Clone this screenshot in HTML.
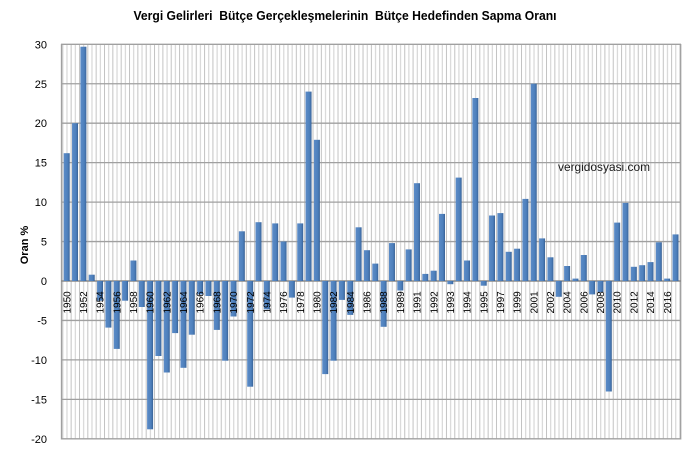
<!DOCTYPE html>
<html>
<head>
<meta charset="utf-8">
<style>
html,body{margin:0;padding:0;background:#fff;}
svg{display:block;}
text{font-family:"Liberation Sans",Arial,sans-serif;}
.pre{white-space:pre;}
</style>
</head>
<body>
<svg width="696" height="452" viewBox="0 0 696 452" xmlns="http://www.w3.org/2000/svg">
<defs>
<pattern id="vg" patternUnits="userSpaceOnUse" x="62.3" y="0" width="8.34" height="452">
<rect x="0" y="0" width="1" height="452" fill="#c2c2c2"/>
<rect x="4.17" y="0" width="1" height="452" fill="#cfcfcf"/>
</pattern>
<linearGradient id="bg" x1="0" y1="0" x2="1" y2="0">
<stop offset="0" stop-color="#5b8bc7"/>
<stop offset="0.6" stop-color="#4f81bd"/>
<stop offset="0.8" stop-color="#4575b0"/>
<stop offset="1" stop-color="#385f90"/>
</linearGradient>
</defs>
<rect width="696" height="452" fill="#fff"/>

<!-- title -->
<text class="pre" xml:space="preserve" x="345" y="20" font-size="12.5" font-weight="bold" text-anchor="middle" textLength="423" lengthAdjust="spacingAndGlyphs" fill="#000">Vergi Gelirleri  Bütçe Gerçekleşmelerinin  Bütçe Hedefinden Sapma Oranı</text>

<!-- plot area -->
<rect x="61.5" y="44.3" width="619" height="394.5" fill="url(#vg)"/>
<g stroke="#a0a0a0" stroke-width="1.3">
<line x1="61" y1="44.3" x2="681" y2="44.3"/>
<line x1="61" y1="83.75" x2="681" y2="83.75"/>
<line x1="61" y1="123.2" x2="681" y2="123.2"/>
<line x1="61" y1="162.65" x2="681" y2="162.65"/>
<line x1="61" y1="202.1" x2="681" y2="202.1"/>
<line x1="61" y1="241.55" x2="681" y2="241.55"/>
<line x1="61" y1="320.45" x2="681" y2="320.45"/>
<line x1="61" y1="359.9" x2="681" y2="359.9"/>
<line x1="61" y1="399.35" x2="681" y2="399.35"/>
<line x1="61" y1="438.8" x2="681" y2="438.8"/>
<line x1="61.5" y1="44" x2="61.5" y2="439.5"/>
<line x1="680.7" y1="44" x2="680.7" y2="439.5"/>
</g>
<line x1="61" y1="281" x2="681" y2="281" stroke="#8a8a8a" stroke-width="1.4"/>

<!-- bars -->
<g fill="url(#bg)">
<rect x="63.7" y="153.2" width="6" height="127.8"/>
<rect x="72.04" y="123.2" width="6" height="157.8"/>
<rect x="80.38" y="46.7" width="6" height="234.3"/>
<rect x="88.72" y="274.7" width="6" height="6.3"/>
<rect x="97.06" y="281" width="6" height="19.7"/>
<rect x="105.4" y="281" width="6" height="46.6"/>
<rect x="113.74" y="281" width="6" height="67.9"/>
<rect x="122.08" y="281" width="6" height="19.7"/>
<rect x="130.42" y="260.5" width="6" height="20.5"/>
<rect x="138.76" y="281" width="6" height="26"/>
<rect x="147.1" y="281" width="6" height="148.3"/>
<rect x="155.44" y="281" width="6" height="75"/>
<rect x="163.78" y="281" width="6" height="91.5"/>
<rect x="172.12" y="281" width="6" height="52.1"/>
<rect x="180.46" y="281" width="6" height="86.8"/>
<rect x="188.8" y="281" width="6" height="53.7"/>
<rect x="197.14" y="281" width="6" height="13.4"/>
<rect x="205.48" y="281" width="6" height="15"/>
<rect x="213.82" y="281" width="6" height="48.9"/>
<rect x="222.16" y="281" width="6" height="79.7"/>
<rect x="230.5" y="281" width="6" height="35.5"/>
<rect x="238.84" y="231.3" width="6" height="49.7"/>
<rect x="247.18" y="281" width="6" height="105.7"/>
<rect x="255.52" y="222.2" width="6" height="58.8"/>
<rect x="263.86" y="281" width="6" height="28.4"/>
<rect x="272.2" y="223.4" width="6" height="57.6"/>
<rect x="280.54" y="241.5" width="6" height="39.5"/>
<rect x="288.88" y="281" width="6" height="16.6"/>
<rect x="297.22" y="223.4" width="6" height="57.6"/>
<rect x="305.56" y="91.6" width="6" height="189.4"/>
<rect x="313.9" y="139.8" width="6" height="141.2"/>
<rect x="322.24" y="281" width="6" height="93.1"/>
<rect x="330.58" y="281" width="6" height="79.7"/>
<rect x="338.92" y="281" width="6" height="18.9"/>
<rect x="347.26" y="281" width="6" height="33.9"/>
<rect x="355.6" y="227.3" width="6" height="53.7"/>
<rect x="363.94" y="250.2" width="6" height="30.8"/>
<rect x="372.28" y="263.6" width="6" height="17.4"/>
<rect x="380.62" y="281" width="6" height="45.8"/>
<rect x="388.96" y="243.1" width="6" height="37.9"/>
<rect x="397.3" y="281" width="6" height="9.5"/>
<rect x="405.64" y="249.4" width="6" height="31.6"/>
<rect x="413.98" y="183.2" width="6" height="97.8"/>
<rect x="422.32" y="273.9" width="6" height="7.1"/>
<rect x="430.66" y="270.7" width="6" height="10.3"/>
<rect x="439" y="213.9" width="6" height="67.1"/>
<rect x="447.34" y="281" width="6" height="3.2"/>
<rect x="455.68" y="177.6" width="6" height="103.4"/>
<rect x="464.02" y="260.5" width="6" height="20.5"/>
<rect x="472.36" y="98" width="6" height="183"/>
<rect x="480.7" y="281" width="6" height="4.7"/>
<rect x="489.04" y="215.5" width="6" height="65.5"/>
<rect x="497.38" y="213.1" width="6" height="67.9"/>
<rect x="505.72" y="251.8" width="6" height="29.2"/>
<rect x="514.06" y="248.7" width="6" height="32.3"/>
<rect x="522.4" y="198.9" width="6" height="82.1"/>
<rect x="530.74" y="83.7" width="6" height="197.3"/>
<rect x="539.08" y="238.4" width="6" height="42.6"/>
<rect x="547.42" y="257.3" width="6" height="23.7"/>
<rect x="555.76" y="281" width="6" height="15.8"/>
<rect x="564.1" y="266" width="6" height="15"/>
<rect x="572.44" y="278.6" width="6" height="2.4"/>
<rect x="580.78" y="255" width="6" height="26"/>
<rect x="589.12" y="281" width="6" height="13.4"/>
<rect x="597.46" y="281" width="6" height="11"/>
<rect x="605.8" y="281" width="6" height="110.5"/>
<rect x="614.14" y="222.6" width="6" height="58.4"/>
<rect x="622.48" y="202.9" width="6" height="78.1"/>
<rect x="630.82" y="266.8" width="6" height="14.2"/>
<rect x="639.16" y="265.2" width="6" height="15.8"/>
<rect x="647.5" y="262.1" width="6" height="18.9"/>
<rect x="655.84" y="242.3" width="6" height="38.7"/>
<rect x="664.18" y="278.6" width="6" height="2.4"/>
<rect x="672.52" y="234.4" width="6" height="46.6"/>
</g>

<!-- year labels -->
<g font-size="10" fill="#000">
<text transform="translate(70.3,313.5) rotate(-90)">1950</text>
<text transform="translate(86.98,313.5) rotate(-90)">1952</text>
<text transform="translate(103.66,313.5) rotate(-90)">1954</text>
<text transform="translate(120.34,313.5) rotate(-90)">1956</text>
<text transform="translate(137.02,313.5) rotate(-90)">1958</text>
<text transform="translate(153.7,313.5) rotate(-90)">1960</text>
<text transform="translate(170.38,313.5) rotate(-90)">1962</text>
<text transform="translate(187.06,313.5) rotate(-90)">1964</text>
<text transform="translate(203.74,313.5) rotate(-90)">1966</text>
<text transform="translate(220.42,313.5) rotate(-90)">1968</text>
<text transform="translate(237.1,313.5) rotate(-90)">1970</text>
<text transform="translate(253.78,313.5) rotate(-90)">1972</text>
<text transform="translate(270.46,313.5) rotate(-90)">1974</text>
<text transform="translate(287.14,313.5) rotate(-90)">1976</text>
<text transform="translate(303.82,313.5) rotate(-90)">1978</text>
<text transform="translate(320.5,313.5) rotate(-90)">1980</text>
<text transform="translate(337.18,313.5) rotate(-90)">1982</text>
<text transform="translate(353.86,313.5) rotate(-90)">1984</text>
<text transform="translate(370.54,313.5) rotate(-90)">1986</text>
<text transform="translate(387.22,313.5) rotate(-90)">1988</text>
<text transform="translate(403.9,313.5) rotate(-90)">1989</text>
<text transform="translate(420.58,313.5) rotate(-90)">1991</text>
<text transform="translate(437.26,313.5) rotate(-90)">1992</text>
<text transform="translate(453.94,313.5) rotate(-90)">1993</text>
<text transform="translate(470.62,313.5) rotate(-90)">1994</text>
<text transform="translate(487.3,313.5) rotate(-90)">1995</text>
<text transform="translate(503.98,313.5) rotate(-90)">1997</text>
<text transform="translate(520.66,313.5) rotate(-90)">1999</text>
<text transform="translate(537.34,313.5) rotate(-90)">2001</text>
<text transform="translate(554.02,313.5) rotate(-90)">2002</text>
<text transform="translate(570.7,313.5) rotate(-90)">2004</text>
<text transform="translate(587.38,313.5) rotate(-90)">2006</text>
<text transform="translate(604.06,313.5) rotate(-90)">2008</text>
<text transform="translate(620.74,313.5) rotate(-90)">2010</text>
<text transform="translate(637.42,313.5) rotate(-90)">2012</text>
<text transform="translate(654.1,313.5) rotate(-90)">2014</text>
<text transform="translate(670.78,313.5) rotate(-90)">2016</text>
</g>

<!-- y axis labels -->
<g font-size="11" fill="#000" text-anchor="end">
<text x="47" y="48.3">30</text>
<text x="47" y="87.75">25</text>
<text x="47" y="127.2">20</text>
<text x="47" y="166.65">15</text>
<text x="47" y="206.1">10</text>
<text x="47" y="245.55">5</text>
<text x="47" y="285">0</text>
<text x="47" y="324.45">-5</text>
<text x="47" y="363.9">-10</text>
<text x="47" y="403.35">-15</text>
<text x="47" y="442.8">-20</text>
</g>

<!-- y axis title -->
<text transform="translate(28,245) rotate(-90)" font-size="11" font-weight="bold" text-anchor="middle" fill="#000">Oran %</text>

<!-- watermark -->
<text x="558" y="171" font-size="12" textLength="92" lengthAdjust="spacingAndGlyphs" fill="#1a1a1a">vergidosyasi.com</text>
</svg>
</body>
</html>
